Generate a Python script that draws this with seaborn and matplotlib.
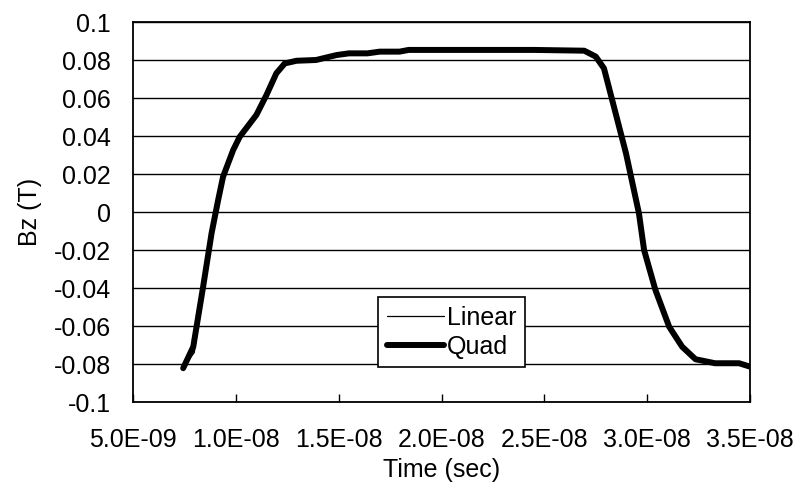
import numpy as np
import pandas as pd
import seaborn as sns
import matplotlib.pyplot as plt
from matplotlib.ticker import FuncFormatter

# Bz(t)
time_quad = [7.44e-9, 7.93e-9, 8.41e-9, 8.82e-9, 9.14e-9, 9.38e-9, 9.87e-9, 10.19e-9,
             11.0e-9, 11.49e-9, 11.97e-9, 12.38e-9, 12.95e-9, 13.9e-9, 14.9e-9, 15.5e-9,
             16.4e-9, 17.0e-9, 17.96e-9, 18.4e-9, 20.4e-9, 22.5e-9, 24.5e-9, 26.94e-9,
             27.5e-9, 27.9e-9, 28.3e-9, 28.97e-9, 29.6e-9, 29.85e-9, 30.4e-9, 31.07e-9,
             31.7e-9, 32.35e-9, 33.3e-9, 34.47e-9, 35.0e-9]
bz_quad = [-0.0822, -0.0709, -0.0393, -0.0112, 0.0063, 0.0186, 0.0326, 0.0396,
           0.0511, 0.0616, 0.0730, 0.0782, 0.0796, 0.0800, 0.0826, 0.0835,
           0.0835, 0.0844, 0.0844, 0.0853, 0.0853, 0.0853, 0.0853, 0.0849,
           0.0818, 0.0756, 0.0589, 0.0309, -0.0007, -0.0200, -0.0410, -0.0604,
           -0.0709, -0.0775, -0.0796, -0.0796, -0.0814]

time_lin = [7.44e-9, 7.98e-9, 8.43e-9, 8.84e-9, 9.16e-9, 9.40e-9, 9.90e-9, 10.25e-9,
            11.0e-9, 11.49e-9, 11.97e-9, 12.38e-9, 12.95e-9, 13.9e-9, 14.9e-9, 15.5e-9,
            16.4e-9, 17.0e-9, 17.96e-9, 18.4e-9, 20.4e-9, 22.5e-9, 24.5e-9, 26.94e-9,
            27.5e-9, 27.9e-9, 28.3e-9, 28.97e-9, 29.6e-9, 29.85e-9, 30.4e-9, 31.1e-9,
            31.8e-9, 32.4e-9, 33.3e-9, 34.47e-9, 35.0e-9]
bz_lin = [-0.0818, -0.0740, -0.0400, -0.0115, 0.0060, 0.0180, 0.0330, 0.0400,
          0.0505, 0.0610, 0.0728, 0.0780, 0.0795, 0.0800, 0.0825, 0.0834,
          0.0834, 0.0843, 0.0843, 0.0852, 0.0852, 0.0852, 0.0852, 0.0848,
          0.0815, 0.0752, 0.0585, 0.0305, -0.0010, -0.0205, -0.0415, -0.0610,
          -0.0715, -0.0778, -0.0797, -0.0797, -0.0812]

y_ticks = [-0.1, -0.08, -0.06, -0.04, -0.02, 0, 0.02, 0.04, 0.06, 0.08, 0.1]
y_labels = ["-0.1", "-0.08", "-0.06", "-0.04", "-0.02", "0",
            "0.02", "0.04", "0.06", "0.08", "0.1"]
x_ticks = [5e-9, 10e-9, 15e-9, 20e-9, 25e-9, 30e-9, 35e-9]

df = pd.concat([
    pd.DataFrame({"t": time_lin, "Bz": bz_lin, "model": "Linear"}),
    pd.DataFrame({"t": time_quad, "Bz": bz_quad, "model": "Quad"}),
])

sns.set_style("white")
plt.rcParams["font.family"] = ["Liberation Sans", "DejaVu Sans"]
plt.rcParams.update({"text.color": "black", "axes.labelcolor": "black",
                     "xtick.color": "black", "ytick.color": "black"})

fig = plt.figure(figsize=(8.01, 4.96), dpi=100)
ax = fig.add_axes([133 / 801, 1 - 402 / 496, 617 / 801, 380 / 496])

sns.lineplot(data=df, x="t", y="Bz", hue="model", size="model",
             sizes={"Linear": 0.9, "Quad": 4.3},
             palette={"Linear": "black", "Quad": "black"},
             sort=False, estimator=None, ax=ax, solid_capstyle="round")

ax.set_xlim(5e-9, 35e-9)
ax.set_ylim(-0.1, 0.1)
ax.set_xticks(x_ticks)
ax.xaxis.set_major_formatter(FuncFormatter(lambda v, p: f"{v:.1E}"))
ax.set_yticks(y_ticks)
ax.set_yticklabels(y_labels)
ax.yaxis.grid(True, color="black", linewidth=1.0)
ax.xaxis.grid(False)
ax.set_axisbelow(True)

for s in ax.spines.values():
    s.set_color("black")
    s.set_linewidth(1.3)

ax.tick_params(axis="x", direction="in", length=5.5, width=1, colors="black",
               labelsize=18, pad=19, bottom=True)
ax.tick_params(axis="y", direction="in", length=0, colors="black",
               labelsize=18, pad=16)

ax.set_xlabel("Time (sec)", fontsize=18, labelpad=4, color="black")
ax.set_ylabel("Bz (T)", fontsize=18, labelpad=8, color="black")

leg = ax.legend(loc="center", bbox_to_anchor=(0.516, 0.184), fontsize=18,
                frameon=True, fancybox=False, framealpha=1, handlelength=2.3,
                handletextpad=0.1, borderpad=0.35, labelspacing=0.2,
                borderaxespad=0)
leg.get_frame().set_edgecolor("black")
leg.get_frame().set_linewidth(1.2)
for txt in leg.get_texts():
    txt.set_color("black")

fig.savefig("out.png", dpi=100)
